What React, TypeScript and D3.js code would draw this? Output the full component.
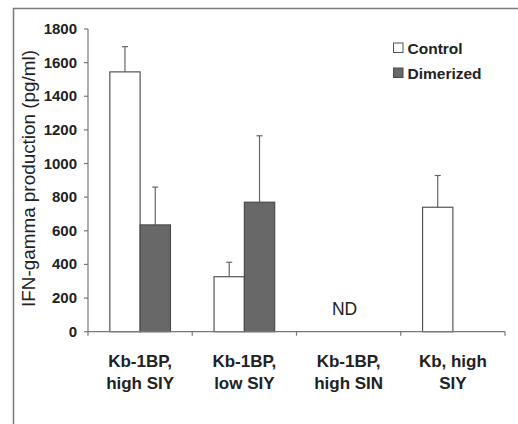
import React from 'react';
import * as d3 from 'd3';

const categories = [
  ['Kb-1BP,', 'high SIY'],
  ['Kb-1BP,', 'low SIY'],
  ['Kb-1BP,', 'high SIN'],
  ['Kb, high', 'SIY'],
];
const seriesNames = ['Control', 'Dimerized'];
const controlValues = [1545, 327, null, 740];
const controlErrors = [150, 86, null, 189];
const dimerizedValues = [635, 770, null, null];
const dimerizedErrors = [225, 395, null, null];
const yTicks = [0, 200, 400, 600, 800, 1000, 1200, 1400, 1600, 1800];

const W = 518;
const H = 424;
const FONT = '"Liberation Sans", Arial, sans-serif';

function App(): React.ReactElement {
  const catIds = categories.map((_, i) => String(i));
  const x = d3.scaleBand<string>().domain(catIds).range([88, 505]).padding(0);
  const xs = d3.scaleBand<string>().domain(seriesNames).range([0, x.bandwidth()]).paddingInner(0).paddingOuter(0.72);
  const y = d3.scaleLinear().domain([0, 1800]).range([331.7, 29]);

  const series = [
    { name: 'Control', values: controlValues, errors: controlErrors, fill: '#ffffff', stroke: '#555555' },
    { name: 'Dimerized', values: dimerizedValues, errors: dimerizedErrors, fill: '#686868', stroke: '#4a4a4a' },
  ];

  const boundaries = d3.range(categories.length + 1).map(i => 88 + i * x.step());

  return (
    <svg width={W} height={H} style={{ position: 'absolute', left: 0, top: 0, background: '#fff' }}>
      <rect x={0} y={0} width={W} height={H} fill="#ffffff" />
      {/* frame */}
      <path d={`M13.5,${H} L13.5,8.5 L${W},8.5`} fill="none" stroke="#7a7a7a" strokeWidth={1.5} />

      {/* bars */}
      {series.map(s =>
        s.values.map((v, i) => {
          if (v == null) return null;
          const bx = (x(String(i)) ?? 0) + (xs(s.name) ?? 0);
          const bw = xs.bandwidth();
          const e = s.errors[i] ?? 0;
          const cx = bx + bw / 2;
          return (
            <g key={s.name + i}>
              <line x1={cx} x2={cx} y1={y(v)} y2={y(v + e)} stroke="#666" strokeWidth={1.2} />
              <line x1={cx - 3} x2={cx + 3} y1={y(v + e)} y2={y(v + e)} stroke="#666" strokeWidth={1.2} />
              <rect x={bx} y={y(v)} width={bw} height={y(0) - y(v)} fill={s.fill} stroke={s.stroke} strokeWidth={1.2} />
            </g>
          );
        })
      )}

      {/* y axis */}
      <line x1={88} x2={88} y1={y(1800)} y2={y(0)} stroke="#777" strokeWidth={1.2} />
      {yTicks.map(t => (
        <g key={t}>
          <line x1={84} x2={88} y1={y(t)} y2={y(t)} stroke="#777" strokeWidth={1.2} />
          <text x={77} y={y(t) + 5} textAnchor="end" fontFamily={FONT} fontWeight="bold" fontSize={15} fill="#222">
            {t}
          </text>
        </g>
      ))}

      {/* x axis */}
      <line x1={88} x2={505} y1={y(0)} y2={y(0)} stroke="#777" strokeWidth={1.2} />
      {boundaries.map((b, i) => (
        <line key={i} x1={b} x2={b} y1={y(0)} y2={y(0) + 4} stroke="#777" strokeWidth={1.2} />
      ))}
      {categories.map((lines, i) => (
        <text key={i} textAnchor="middle" fontFamily={FONT} fontWeight="bold" fontSize={17} fill="#222">
          {lines.map((l, j) => (
            <tspan key={j} x={(x(String(i)) ?? 0) + x.bandwidth() / 2} y={367 + j * 21.5}>
              {l}
            </tspan>
          ))}
        </text>
      ))}

      {/* ND */}
      <text x={(x('2') ?? 0) + x.bandwidth() / 2 - 4} y={315} textAnchor="middle" fontFamily={FONT} fontSize={17.5} fill="#222">
        ND
      </text>

      {/* y label */}
      <text
        transform={`translate(35,178.5) rotate(-90)`}
        textAnchor="middle"
        fontFamily={FONT}
        fontSize={17.5}
        fill="#222"
        textLength={257}
        lengthAdjust="spacingAndGlyphs"
      >
        IFN-gamma production (pg/ml)
      </text>

      {/* legend */}
      {series.map((s, i) => (
        <g key={s.name} transform={`translate(393.5,${43 + i * 25})`}>
          <rect x={0} y={0} width={9.5} height={9.5} fill={s.fill} stroke={s.stroke} strokeWidth={1} />
          <text x={14} y={10.5} fontFamily={FONT} fontWeight="bold" fontSize={15.5} fill="#222">
            {s.name}
          </text>
        </g>
      ))}
    </svg>
  );
}

export default App;
